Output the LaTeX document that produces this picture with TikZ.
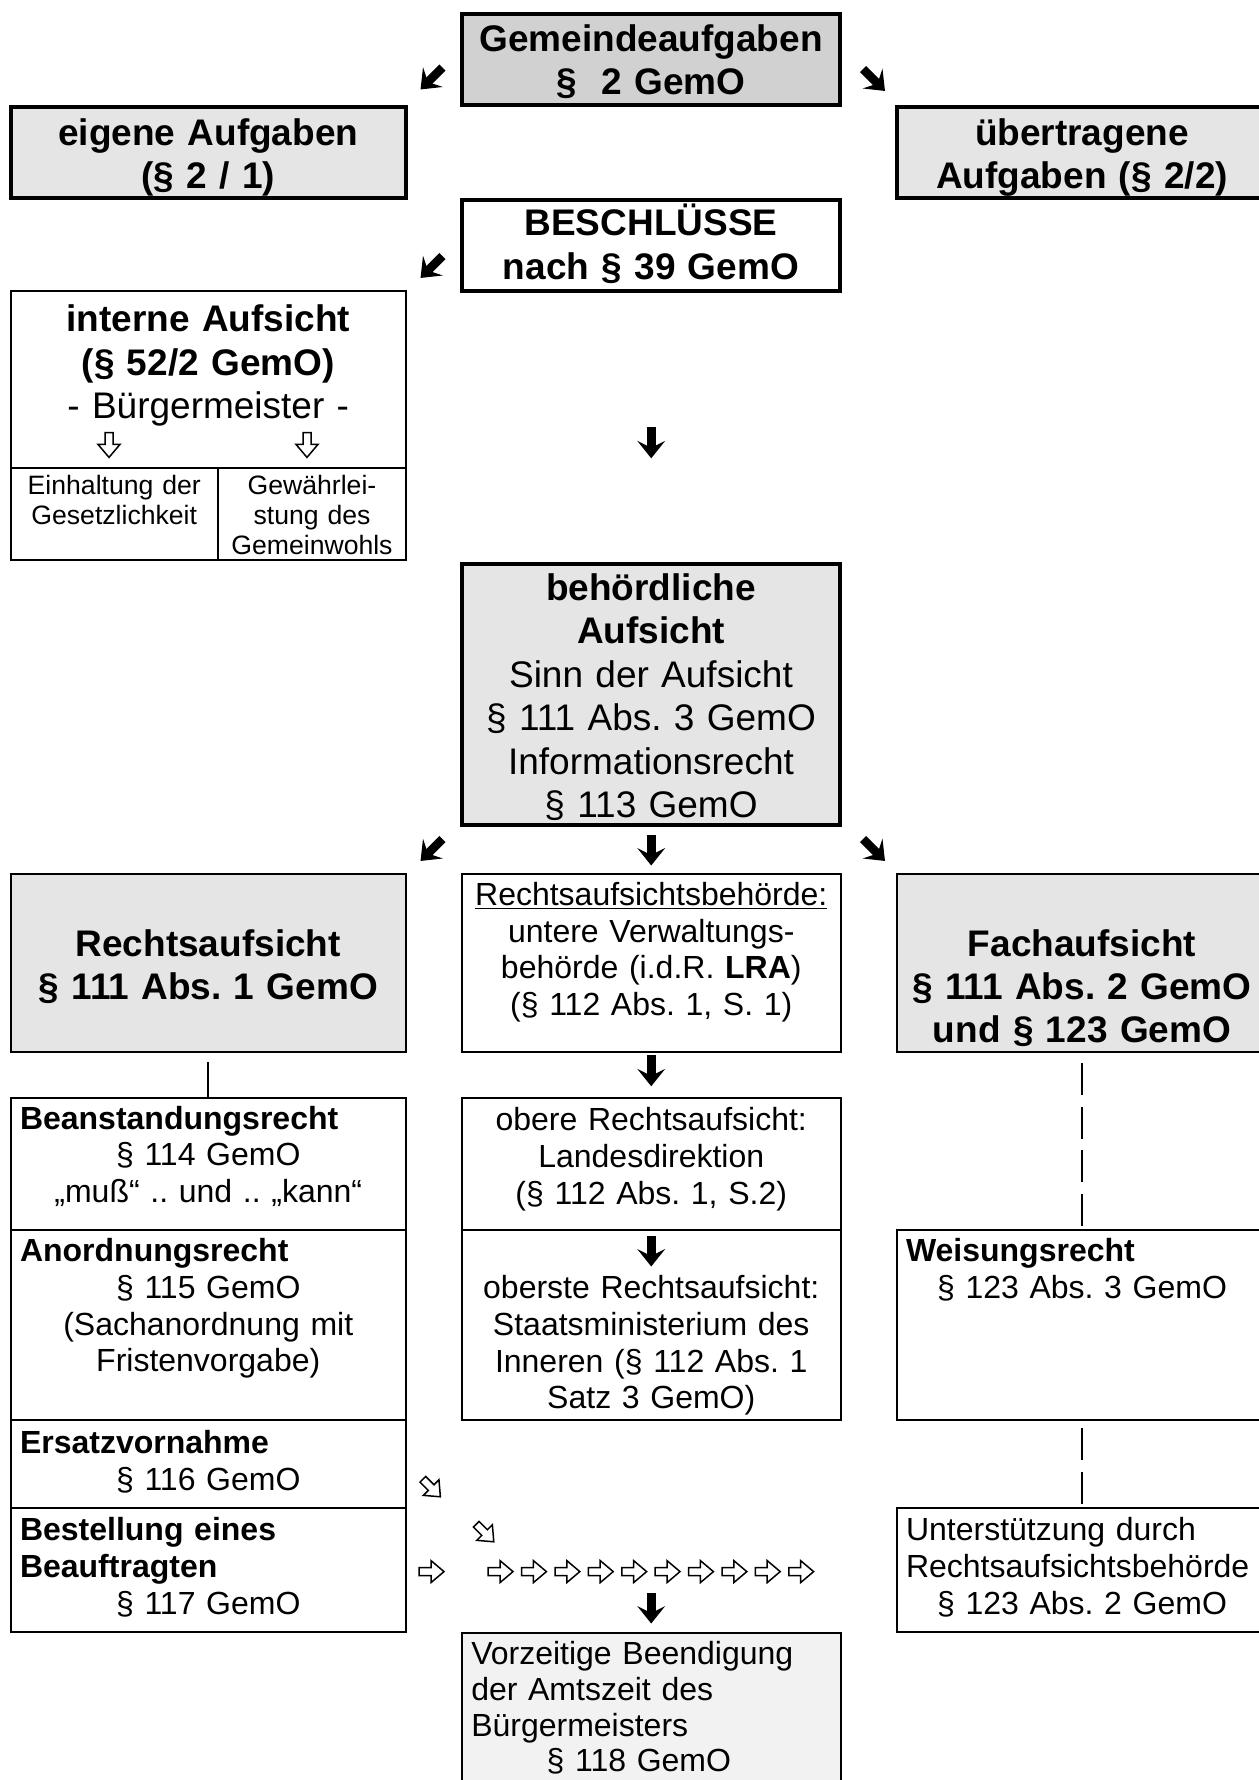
\documentclass[tikz,border=0pt]{standalone}
\usepackage{fontspec}
\setmainfont{Liberation Sans}
\usetikzlibrary{positioning}
\frenchspacing

\definecolor{fillgem}{gray}{0.82}
\definecolor{fillhead}{gray}{0.9}
\definecolor{fillpale}{gray}{0.95}

\newcommand{\sizebig}{\fontsize{18.5}{21.7}\selectfont}
\newcommand{\sizemed}{\fontsize{16}{18.3}\selectfont}
\newcommand{\sizesml}{\fontsize{13.3}{15}\selectfont}
\newcommand{\lefthead}[1]{\makebox[\linewidth][l]{#1}}

\tikzset{
  box/.style={draw, line width=1pt, inner sep=0pt, outer sep=0pt, anchor=north west},
  thickbox/.style={box, line width=2pt},
  txt/.style={inner sep=0pt, align=center, anchor=north},
  dashline/.style={line width=1.2pt, dash pattern=on 16pt off 5.8pt},
  pics/heavyarrow/.style={code={
    \fill (-2.2,-7.75) rectangle (2.2,3);
    \fill (-7,-1) -- (0,7.75) -- (7,-1) -- (0,2.5) -- cycle;
  }},
  pics/hollowarrow/.style={code={
    \draw[line width=0.75pt] (-6.2,-2) -- (-0.3,-2) -- (-0.3,-5.5) -- (6.2,0) -- (-0.3,5.5) -- (-0.3,2) -- (-6.2,2) -- cycle;
  }},
}

\begin{document}
\begin{tikzpicture}[x=1pt,y=-1pt]
\useasboundingbox (0,0) rectangle (629,890);

% Kopf
\node[thickbox, fill=fillgem, minimum width=189pt, minimum height=45.8pt] (gem) at (231,6.85) {};
\node[thickbox, fill=fillhead, minimum width=197.25pt, minimum height=45.5pt] (eig) at (5.5,53.5) {};
\node[thickbox, fill=fillhead, minimum width=185pt, minimum height=45.5pt] (ueb) at (448.5,53.5) {};
\node[thickbox, minimum width=189pt, minimum height=45.5pt] (besch) at (231,100) {};

\node[txt, text width=185pt, font=\sizebig\bfseries, below=3.4pt of gem.north] (gemtxt) {\strut Gemeindeaufgaben\\§~ 2 GemO};
\node[txt, text width=193pt, font=\sizebig\bfseries, below=3.85pt of eig.north] (eigtxt) {\strut eigene Aufgaben\\(§ 2 / 1)};
\node[txt, text width=181pt, font=\sizebig\bfseries, below=3.85pt of ueb.north] (uebtxt) {\strut übertragene\\Aufgaben (§ 2/2)};
\node[txt, text width=185pt, font=\sizebig\bfseries, below=1.85pt of besch.north] (beschtxt) {\strut BESCHLÜSSE\\nach § 39 GemO};

% interne Aufsicht
\node[box, minimum width=197.75pt, minimum height=88.5pt] (intern) at (5.25,145.5) {};
\node[box, minimum width=103.75pt, minimum height=46pt] (einh) at (5.25,234) {};
\node[box, minimum width=94pt, minimum height=46pt] (gew) at (109,234) {};
\node[txt, text width=193pt, font=\sizebig, below=5pt of intern.north] (interntxt) {\strut\textbf{interne Aufsicht}\\\textbf{(§ 52/2 GemO)}\\- Bürgermeister -};
\node[txt, text width=100pt, font=\sizesml, below=2.8pt of einh.north] (einhtxt) {\strut Einhaltung der\\Gesetzlichkeit};
\node[txt, text width=90pt, font=\sizesml, below=2.8pt of gew.north] (gewtxt) {\strut Gewährlei-\\stung des\\Gemeinwohls};
\pic[rotate=-90] at (54.5,222.5) {hollowarrow};
\pic[rotate=-90] at (153.5,222.5) {hollowarrow};

% behoerdliche Aufsicht
\node[thickbox, fill=fillhead, minimum width=189pt, minimum height=130.5pt] (beh) at (231,281.8) {};
\node[txt, text width=185pt, font=\sizebig, below=3.05pt of beh.north] (behtxt) {\strut\textbf{behördliche}\\\textbf{Aufsicht}\\Sinn der Aufsicht\\§ 111 Abs. 3 GemO\\Informationsrecht\\§ 113 GemO};

\pic[rotate=-45] at (215.75,39.25) {heavyarrow};
\pic[rotate=45] at (437,40) {heavyarrow};
\pic[rotate=-45] at (215.75,133.5) {heavyarrow};
\pic at (325.6,221.4) {heavyarrow};
\pic[rotate=-45] at (215.75,425) {heavyarrow};
\pic at (325.6,425) {heavyarrow};
\pic[rotate=45] at (437,425) {heavyarrow};

% drei Spalten
\node[box, fill=fillhead, minimum width=197.75pt, minimum height=89pt] (rechts) at (5.25,437) {};
\node[box, minimum width=189.75pt, minimum height=89pt] (rab) at (230.75,437) {};
\node[box, fill=fillhead, minimum width=185pt, minimum height=89pt] (fach) at (448.5,437) {};
\node[txt, text width=193pt, font=\sizebig\bfseries, below=25.7pt of rechts.north] (rechtstxt) {\strut Rechtsaufsicht\\§ 111 Abs. 1 GemO};
\node[txt, text width=185pt, font=\sizemed, below=2.75pt of rab.north] (rabtxt) {\strut\underline{Rechtsaufsichtsbehörde:}\\untere Verwaltungs-\\behörde (i.d.R. \textbf{LRA})\\(§ 112 Abs. 1, S. 1)};
\node[txt, text width=181pt, font=\sizebig\bfseries, below=25.7pt of fach.north] (fachtxt) {\strut Fachaufsicht\\§ 111 Abs. 2 GemO\\und § 123 GemO};

\node[box, minimum width=197.75pt, minimum height=66pt] (bean) at (5.25,549) {};
\node[box, minimum width=197.75pt, minimum height=95pt] (anord) at (5.25,615) {};
\node[box, minimum width=197.75pt, minimum height=44pt] (ersatz) at (5.25,710) {};
\node[box, minimum width=197.75pt, minimum height=62pt] (bestell) at (5.25,754) {};
\node[txt, text width=188.25pt, font=\sizemed, below=2.5pt of bean.north] (beantxt) {\strut\lefthead{\textbf{Beanstandungsrecht}}\\§ 114 GemO\\„muß“ .. und .. „kann“};
\node[txt, text width=188.25pt, font=\sizemed, below=2.95pt of anord.north] (anordtxt) {\strut\lefthead{\textbf{Anordnungsrecht}}\\§ 115 GemO\\(Sachanordnung mit\\Fristenvorgabe)};
\node[txt, text width=188.25pt, font=\sizemed, below=3.95pt of ersatz.north] (ersatztxt) {\strut\lefthead{\textbf{Ersatzvornahme}}\\§ 116 GemO};
\node[txt, text width=188.25pt, font=\sizemed, below=3.45pt of bestell.north] (bestelltxt) {\strut\lefthead{\textbf{Bestellung eines}}\\\lefthead{\textbf{Beauftragten}}\\§ 117 GemO};

\node[box, minimum width=189.75pt, minimum height=66pt] (obere) at (230.75,549) {};
\node[box, minimum width=189.75pt, minimum height=95pt] (oberste) at (230.75,615) {};
\node[txt, text width=185pt, font=\sizemed, below=3.45pt of obere.north] (oberetxt) {\strut obere Rechtsaufsicht:\\Landesdirektion\\(§ 112 Abs. 1, S.2)};
\node[txt, text width=185pt, font=\sizemed, below=21.45pt of oberste.north] (obersttxt) {\strut oberste Rechtsaufsicht:\\Staatsministerium des\\Inneren (§ 112 Abs. 1\\Satz 3 GemO)};
\pic at (325.6,535.4) {heavyarrow};
\pic at (325.6,625.5) {heavyarrow};

\node[box, minimum width=185pt, minimum height=95pt] (weis) at (448.5,615) {};
\node[box, minimum width=185pt, minimum height=62pt] (unt) at (448.5,754) {};
\node[txt, text width=176pt, font=\sizemed, below=2.95pt of weis.north] (weistxt) {\strut\lefthead{\textbf{Weisungsrecht}}\\§ 123 Abs. 3 GemO};
\node[txt, text width=176pt, font=\sizemed, below=3.45pt of unt.north] (unttxt) {\strut\lefthead{Unterstützung durch}\\\lefthead{Rechtsaufsichtsbehörde}\\§ 123 Abs. 2 GemO};

\draw[line width=1pt] ([yshift=-5pt]rechts.south) -- (bean.north);
\draw[dashline] ([yshift=-5.5pt]fach.south) -- (weis.north);
\draw[dashline] ([yshift=-4pt]weis.south) -- (unt.north);

% Ersatzvornahme und Beauftragter
\pic[rotate=-45] at (215.8,744) {hollowarrow};
\pic[rotate=-45] at (242.5,766.5) {hollowarrow};
\pic at (215.8,785.8) {hollowarrow};
\foreach \i in {0,...,9}
  \pic at (250.3+16.7*\i,785.8) {hollowarrow};
\pic at (325.6,804) {heavyarrow};

\node[box, fill=fillpale, minimum width=189.75pt, minimum height=100pt] (vorz) at (230.75,816.5) {};
\node[txt, text width=180pt, align=left, font=\fontsize{16}{17.9}\selectfont, below=3pt of vorz.north] (vorztxt) {\strut Vorzeitige Beendigung\\der Amtszeit des\\Bürgermeisters\\\hspace*{37.7pt}§ 118 GemO};
\end{tikzpicture}
\end{document}
